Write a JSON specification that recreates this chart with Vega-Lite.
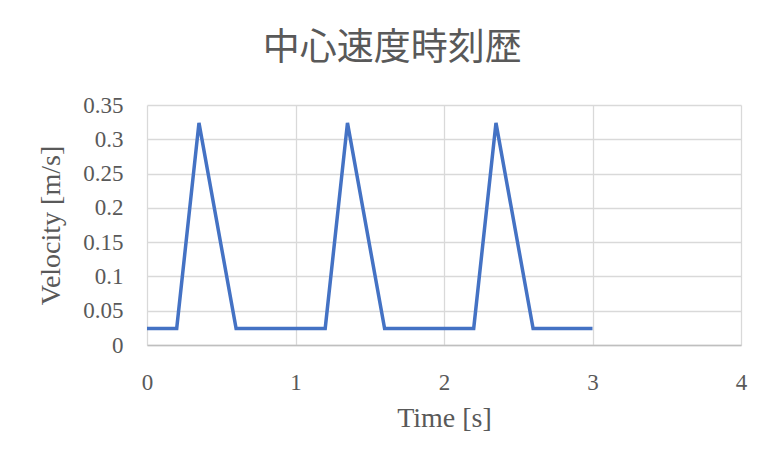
{
  "$schema": "https://vega.github.io/schema/vega-lite/v6.json",
  "autosize": "none",
  "width": 594,
  "height": 240,
  "padding": {"left": 147, "top": 105, "right": 40, "bottom": 124},
  "background": "white",
  "title": {
    "text": "中心速度時刻歴",
    "font": "Liberation Serif, Noto Sans CJK JP",
    "fontSize": 37,
    "fontWeight": "normal",
    "color": "#595959",
    "anchor": "middle",
    "frame": "bounds",
    "offset": 26
  },
  "data": {
    "values": [
      {"t": 0, "v": 0.024},
      {"t": 0.2, "v": 0.024},
      {"t": 0.35, "v": 0.324},
      {"t": 0.6, "v": 0.024},
      {"t": 1.2, "v": 0.024},
      {"t": 1.35, "v": 0.324},
      {"t": 1.6, "v": 0.024},
      {"t": 2.2, "v": 0.024},
      {"t": 2.35, "v": 0.324},
      {"t": 2.6, "v": 0.024},
      {"t": 3, "v": 0.024}
    ]
  },
  "mark": {"type": "line", "color": "#4472C4", "strokeWidth": 3.5},
  "encoding": {
    "x": {
      "field": "t",
      "type": "quantitative",
      "scale": {"domain": [0, 4], "nice": false},
      "axis": {
        "title": "Time [s]",
        "values": [0, 1, 2, 3, 4],
        "format": "d",
        "grid": true,
        "gridColor": "#d9d9d9",
        "gridWidth": 1.3,
        "domain": true,
        "domainColor": "#bfbfbf",
        "domainWidth": 1.5,
        "ticks": false,
        "labelFlush": false,
        "labelPadding": 26,
        "titlePadding": 10
      }
    },
    "y": {
      "field": "v",
      "type": "quantitative",
      "scale": {"domain": [0, 0.35], "nice": false},
      "axis": {
        "title": "Velocity [m/s]",
        "values": [0, 0.05, 0.1, 0.15, 0.2, 0.25, 0.3, 0.35],
        "format": ".2~f",
        "grid": true,
        "gridColor": "#d9d9d9",
        "gridWidth": 1.3,
        "domain": false,
        "ticks": false,
        "labelFlush": false,
        "labelPadding": 24,
        "titlePadding": 17
      }
    }
  },
  "config": {
    "view": {"stroke": null},
    "axis": {
      "labelFont": "Liberation Serif",
      "labelFontSize": 23,
      "labelColor": "#595959",
      "titleFont": "Liberation Serif",
      "titleFontSize": 28,
      "titleFontWeight": "normal",
      "titleColor": "#595959"
    }
  }
}
